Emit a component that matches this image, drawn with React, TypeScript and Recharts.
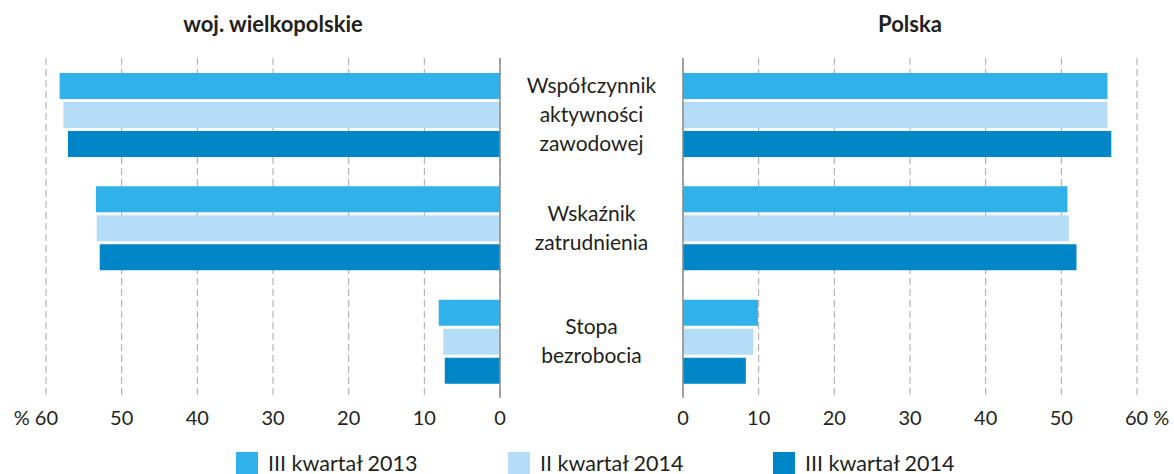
import React from "react"
import { BarChart, Bar, XAxis, YAxis, CartesianGrid, ReferenceLine } from "recharts"

const categories = ["Współczynnik\naktywności\nzawodowej", "Wskaźnik\nzatrudnienia", "Stopa\nbezrobocia"]
const seriesNames = ["III kwartał 2013", "II kwartał 2014", "III kwartał 2014"]
const seriesColors = ["#30b1e9", "#b6ddf7", "#0085c7"]

// woj. wielkopolskie
const wlkpQ3_2013 = [58.2, 53.4, 8.1]
const wlkpQ2_2014 = [57.7, 53.3, 7.5]
const wlkpQ3_2014 = [57.1, 52.9, 7.3]

// Polska
const plQ3_2013 = [56.1, 50.8, 9.9]
const plQ2_2014 = [56.1, 51.0, 9.3]
const plQ3_2014 = [56.6, 52.0, 8.3]

const xTicks = [0, 10, 20, 30, 40, 50, 60]

const font = "Lato, 'Noto Sans', sans-serif"
const textColor = "#231f20"

const leftData = categories.map((name, i) => ({ name, a: wlkpQ3_2013[i], b: wlkpQ2_2014[i], c: wlkpQ3_2014[i] }))
const rightData = categories.map((name, i) => ({ name, a: plQ3_2013[i], b: plQ2_2014[i], c: plQ3_2014[i] }))

const PLOT_TOP = 58
const PLOT_H = 340
const GAP_W = 183

function XTick(props: any) {
    const { x, y, payload, side } = props
    let label = String(payload.value)
    let anchor: "middle" | "start" | "end" = "middle"
    let tx = x
    if (payload.value === 60) {
        if (side === "left") {
            label = "% 60"
            anchor = "end"
            tx = x + 12
        } else {
            label = "60 %"
            anchor = "start"
            tx = x - 12
        }
    }
    return (
        <text x={tx} y={y + 27} textAnchor={anchor} fontSize={20} fontFamily={font} fill={textColor}>
            {label}
        </text>
    )
}

function CategoryTick(props: any) {
    const { x, y, payload } = props
    const lines = String(payload.value).split("\n")
    const lh = 29
    const startY = y - ((lines.length - 1) * lh) / 2 + 7
    return (
        <text x={x - GAP_W / 2} textAnchor="middle" fontSize={21} fontFamily={font} fill={textColor}>
            {lines.map((l, i) => (
                <tspan key={i} x={x - GAP_W / 2} y={startY + i * lh}>{l}</tspan>
            ))}
        </text>
    )
}

function Bars() {
    return [
        <Bar key="a" dataKey="a" name={seriesNames[0]} fill={seriesColors[0]} isAnimationActive={false} />,
        <Bar key="b" dataKey="b" name={seriesNames[1]} fill={seriesColors[1]} isAnimationActive={false} />,
        <Bar key="c" dataKey="c" name={seriesNames[2]} fill={seriesColors[2]} isAnimationActive={false} />,
    ]
}

export default function App() {
    const titleStyle: React.CSSProperties = { position: "absolute", top: 10, width: 454, textAlign: "center", fontWeight: 700, fontSize: 22, lineHeight: "28px", color: textColor }
    return (
        <div style={{ position: "absolute", left: 0, top: 0, width: 1174, height: 474, background: "#fff", overflow: "hidden", fontFamily: font }}>
            <div style={{ ...titleStyle, left: 46 }}>woj. wielkopolskie</div>
            <div style={{ ...titleStyle, left: 683 }}>Polska</div>

            <div style={{ position: "absolute", left: 0, top: 0 }}>
                <BarChart
                    width={512}
                    height={PLOT_TOP + PLOT_H + 32}
                    data={leftData}
                    layout="vertical"
                    margin={{ top: PLOT_TOP, right: 12, bottom: 0, left: 46 }}
                    barSize={26}
                    barGap={3}
                >
                    <CartesianGrid horizontal={false} stroke="#a6a6a6" strokeDasharray="7 4" />
                    <XAxis type="number" domain={[0, 60]} ticks={xTicks} reversed axisLine={false} tickLine={false} tickSize={0} tickMargin={0} height={32} interval={0} tick={<XTick side="left" />} />
                    <YAxis type="category" dataKey="name" hide />
                    {Bars()}
                    <ReferenceLine x={0} stroke="#8c8c8c" strokeWidth={1.5} />
                </BarChart>
            </div>

            <div style={{ position: "absolute", left: 500, top: 0 }}>
                <BarChart
                    width={674}
                    height={PLOT_TOP + PLOT_H + 32}
                    data={rightData}
                    layout="vertical"
                    margin={{ top: PLOT_TOP, right: 37, bottom: 0, left: 0 }}
                    barSize={26}
                    barGap={3}
                >
                    <CartesianGrid horizontal={false} stroke="#a6a6a6" strokeDasharray="7 4" />
                    <XAxis type="number" domain={[0, 60]} ticks={xTicks} axisLine={false} tickLine={false} tickSize={0} tickMargin={0} height={32} interval={0} tick={<XTick side="right" />} />
                    <YAxis type="category" dataKey="name" width={GAP_W} axisLine={false} tickLine={false} tickSize={0} tickMargin={0} interval={0} tick={<CategoryTick />} />
                    {Bars()}
                    <ReferenceLine x={0} stroke="#8c8c8c" strokeWidth={1.5} />
                </BarChart>
            </div>

            {seriesNames.map((s, i) => (
                <div key={s} style={{ position: "absolute", top: 452, left: [236, 508, 773][i], display: "flex", alignItems: "center", height: 22 }}>
                    <div style={{ width: 22, height: 22, background: seriesColors[i], marginRight: 10 }} />
                    <span style={{ fontSize: 21.5, lineHeight: "22px", color: textColor, whiteSpace: "nowrap" }}>{s}</span>
                </div>
            ))}
        </div>
    )
}
